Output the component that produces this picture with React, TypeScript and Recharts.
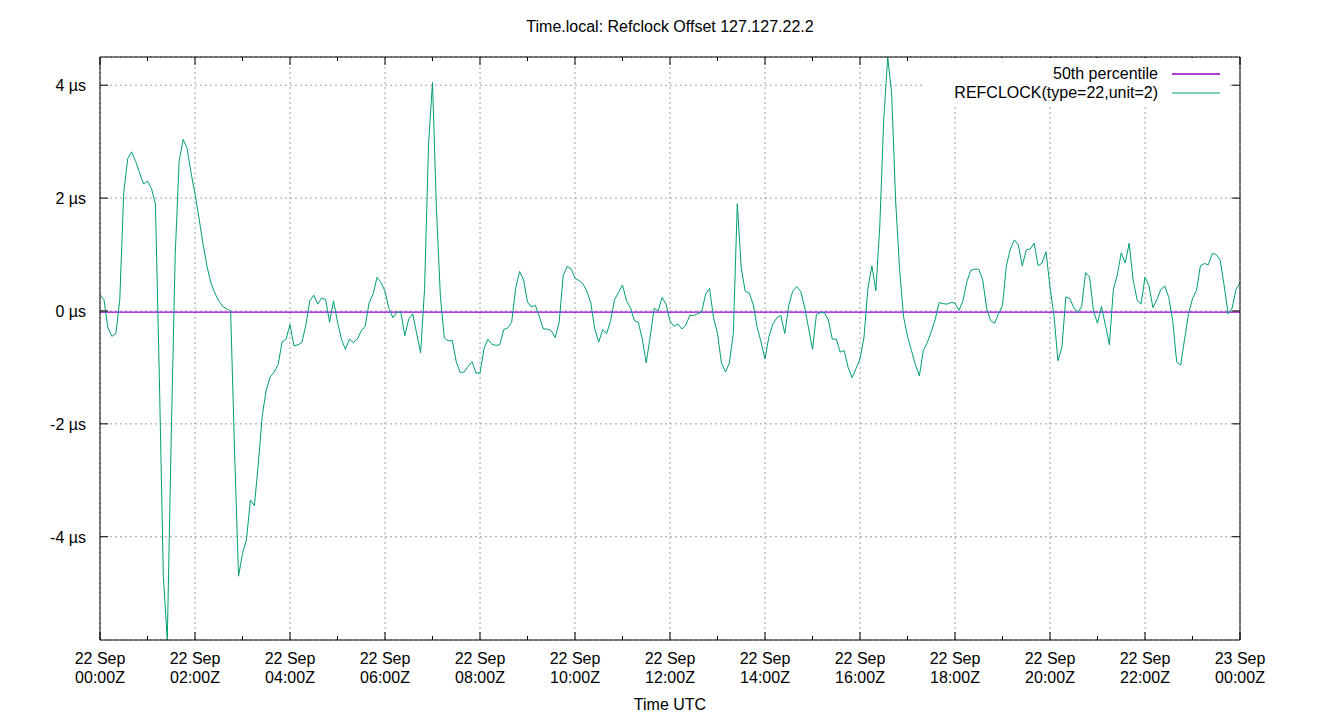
import { LineChart, Line, XAxis, YAxis, CartesianGrid } from "recharts";

const TITLE = "Time.local: Refclock Offset 127.127.22.2";
const X_LABEL = "Time UTC";
const SERIES = [
  { key: "median", name: "50th percentile", color: "#9400d3", width: 1.4 },
  { key: "offset", name: "REFCLOCK(type=22,unit=2)", color: "#009e73", width: 1 },
];

// offset in µs, one value every 5 minutes
const STEP_MIN = 5;
const off00to04 = [
  0.29, 0.2, -0.3, -0.45, -0.4, 0.2, 2.1, 2.7, 2.82, 2.65, 2.45, 2.25,
  2.3, 2.17, 1.9, -1.2, -4.7, -5.83, -2.2, 1.0, 2.65, 3.04, 2.88, 2.45,
  2.07, 1.65, 1.2, 0.8, 0.5, 0.32, 0.18, 0.08, 0.04, 0.0, -2.5, -4.7,
  -4.3, -4.05, -3.35, -3.45, -2.7, -1.85, -1.4, -1.17, -1.08, -0.95, -0.55, -0.5,
];
const off04to08 = [
  -0.24, -0.62, -0.6, -0.56, -0.25, 0.18, 0.28, 0.12, 0.23, 0.2, -0.2, 0.18,
  -0.2, -0.5, -0.68, -0.5, -0.56, -0.5, -0.35, -0.27, 0.15, 0.3, 0.6, 0.5,
  0.35, 0.04, -0.12, -0.02, -0.02, -0.44, -0.14, -0.05, -0.4, -0.74, 0.4, 2.95,
  4.05, 1.8, 0.25, -0.48, -0.53, -0.52, -0.9, -1.09, -1.08, -0.98, -0.9, -1.1,
];
const off08to12 = [
  -1.1, -0.67, -0.5, -0.59, -0.61, -0.6, -0.33, -0.3, -0.2, 0.4, 0.7, 0.55,
  0.16, 0.07, 0.1, -0.1, -0.32, -0.32, -0.35, -0.47, -0.2, 0.62, 0.79, 0.75,
  0.58, 0.54, 0.48, 0.35, 0.14, -0.32, -0.55, -0.33, -0.4, -0.17, 0.2, 0.33,
  0.46, 0.18, 0.06, -0.17, -0.2, -0.5, -0.92, -0.45, 0.05, 0.0, 0.24, 0.12,
];
const off12to16 = [
  -0.18, -0.27, -0.23, -0.32, -0.25, -0.08, -0.08, -0.05, -0.02, 0.3, 0.4, -0.12,
  -0.4, -0.92, -1.08, -0.92, -0.4, 1.9, 0.76, 0.35, 0.32, 0.12, -0.28, -0.55,
  -0.85, -0.45, -0.23, -0.12, -0.08, -0.4, 0.1, 0.35, 0.43, 0.35, 0.07, -0.3,
  -0.68, -0.06, -0.03, -0.03, -0.16, -0.5, -0.5, -0.73, -0.7, -1.0, -1.18, -1.02,
];
const off16to20 = [
  -0.85, -0.47, 0.4, 0.8, 0.36, 1.5, 3.4, 4.5, 3.85, 1.95, 0.75, -0.1,
  -0.45, -0.7, -0.95, -1.15, -0.7, -0.56, -0.37, -0.15, 0.15, 0.13, 0.12, 0.15,
  0.14, 0.01, 0.18, 0.52, 0.72, 0.74, 0.74, 0.55, 0.05, -0.17, -0.22, -0.05,
  0.1, 0.81, 1.1, 1.26, 1.17, 0.8, 1.08, 1.1, 1.2, 0.8, 0.85, 1.05,
];
const off20to24 = [
  0.42, -0.08, -0.88, -0.65, 0.25, 0.22, 0.06, -0.03, 0.08, 0.68, 0.6, 0.0,
  -0.22, 0.08, -0.25, -0.6, 0.38, 0.64, 1.03, 0.85, 1.2, 0.55, 0.2, 0.12,
  0.6, 0.45, 0.06, 0.2, 0.38, 0.44, 0.24, -0.17, -0.9, -0.96, -0.5, -0.05,
  0.22, 0.36, 0.8, 0.84, 0.82, 1.02, 1.0, 0.9, 0.45, -0.05, 0.05, 0.38, 0.5,
];
const median50 = -0.02;

const Y_DOMAIN = [-5.83, 4.5];
const Y_TICKS = [-4, -2, 0, 2, 4];
const X_MAJOR = [0, 2, 4, 6, 8, 10, 12, 14, 16, 18, 20, 22, 24];
const X_MINOR = [1, 3, 5, 7, 9, 11, 13, 15, 17, 19, 21, 23];
const X_ALL = [0, 1, 2, 3, 4, 5, 6, 7, 8, 9, 10, 11, 12, 13, 14, 15, 16, 17, 18, 19, 20, 21, 22, 23, 24];

const offsets = [...off00to04, ...off04to08, ...off08to12, ...off12to16, ...off16to20, ...off20to24];
const data = offsets.map((v, i) => ({ t: (i * STEP_MIN) / 60, offset: v, median: median50 }));

const FONT = "'Liberation Sans', Arial, sans-serif";
const FS = 16;
const TXT = "#000";

function hourLabel(h: number) {
  const day = h >= 24 ? "23 Sep" : "22 Sep";
  const hh = String(h % 24).padStart(2, "0");
  return [day, `${hh}:00Z`];
}

const BottomTick = (props: any) => {
  const { x, y, payload } = props;
  const major = payload.value % 2 === 0;
  const [l1, l2] = hourLabel(payload.value);
  return (
    <g>
      <line x1={x} x2={x} y1={y} y2={y - (major ? 8 : 4)} stroke="#000" />
      {major && (
        <text x={x} textAnchor="middle" fontSize={FS} fontFamily={FONT} fill={TXT}>
          <tspan x={x} y={y + 24}>{l1}</tspan>
          <tspan x={x} y={y + 43}>{l2}</tspan>
        </text>
      )}
    </g>
  );
};

// shift lets the stacked minor-tick axis start on the same border line
const TopTick = (props: any) => {
  const { x, y, payload, shift = 0 } = props;
  const major = payload.value % 2 === 0;
  const y0 = y + shift;
  return <line x1={x} x2={x} y1={y0} y2={y0 + (major ? 8 : 4)} stroke="#000" />;
};

const LeftTick = (props: any) => {
  const { x, y, payload } = props;
  return (
    <g>
      <line x1={x} x2={x + 8} y1={y} y2={y} stroke="#000" />
      <text x={x - 14} y={y + 6} textAnchor="end" fontSize={FS} fontFamily={FONT} fill={TXT}>
        {`${payload.value} µs`}
      </text>
    </g>
  );
};

const RightTick = (props: any) => {
  const { x, y } = props;
  return <line x1={x} x2={x - 8} y1={y} y2={y} stroke="#000" />;
};

export default function App() {
  return (
    <div style={{ position: "absolute", left: 0, top: 0, width: 1340, height: 720, background: "#fff", fontFamily: FONT }}>
      <div style={{ position: "absolute", left: 0, top: 18, width: 1340, textAlign: "center", fontSize: FS, lineHeight: "18px", color: TXT }}>
        {TITLE}
      </div>
      <LineChart width={1340} height={720} data={data} margin={{ top: 55, right: 80, bottom: 20, left: 40 }}>
        <CartesianGrid xAxisId="top" stroke="#a0a0a0" strokeDasharray="2 3" />
        <XAxis
          dataKey="t"
          type="number"
          domain={[0, 24]}
          ticks={X_ALL}
          interval={0}
          height={60}
          tickSize={0}
          tickMargin={0}
          tickLine={false}
          axisLine={{ stroke: "#000" }}
          tick={<BottomTick />}
        />
        <XAxis
          xAxisId="top"
          orientation="top"
          dataKey="t"
          type="number"
          domain={[0, 24]}
          ticks={X_MAJOR}
          interval={0}
          height={1}
          tickSize={0}
          tickMargin={0}
          tickLine={false}
          axisLine={{ stroke: "#000" }}
          tick={<TopTick />}
        />
        <XAxis
          xAxisId="topMinor"
          orientation="top"
          dataKey="t"
          type="number"
          domain={[0, 24]}
          ticks={X_MINOR}
          interval={0}
          height={1}
          tickSize={0}
          tickMargin={0}
          tickLine={false}
          axisLine={false}
          tick={<TopTick shift={1} />}
        />
        <YAxis
          type="number"
          domain={Y_DOMAIN}
          ticks={Y_TICKS}
          interval={0}
          allowDataOverflow
          width={60}
          tickSize={0}
          tickMargin={0}
          tickLine={false}
          axisLine={{ stroke: "#000" }}
          tick={<LeftTick />}
        />
        <YAxis
          yAxisId="right"
          orientation="right"
          type="number"
          domain={Y_DOMAIN}
          ticks={Y_TICKS}
          interval={0}
          allowDataOverflow
          width={20}
          tickSize={0}
          tickMargin={0}
          tickLine={false}
          axisLine={{ stroke: "#000" }}
          tick={<RightTick />}
        />
        {SERIES.map((s) => (
          <Line
            key={s.key}
            type="linear"
            dataKey={s.key}
            name={s.name}
            stroke={s.color}
            strokeWidth={s.width}
            dot={false}
            activeDot={false}
            isAnimationActive={false}
          />
        ))}
      </LineChart>
      <div
        style={{
          position: "absolute",
          left: 922,
          top: 58,
          width: 298,
          padding: "6px 10px 5px 0",
          background: "#fff",
          fontSize: FS,
          lineHeight: "19px",
          color: TXT,
        }}
      >
        {SERIES.map((s) => (
          <div key={s.key} style={{ display: "flex", justifyContent: "flex-end", alignItems: "center", height: 19 }}>
            <span>{s.name}</span>
            <svg width={48} height={4} style={{ marginLeft: 14, display: "block" }}>
              <line x1={0} x2={48} y1={2} y2={2} stroke={s.color} strokeWidth={s.width} />
            </svg>
          </div>
        ))}
      </div>
      <div style={{ position: "absolute", left: 0, top: 696, width: 1340, textAlign: "center", fontSize: FS, lineHeight: "18px", color: TXT }}>
        {X_LABEL}
      </div>
    </div>
  );
}
